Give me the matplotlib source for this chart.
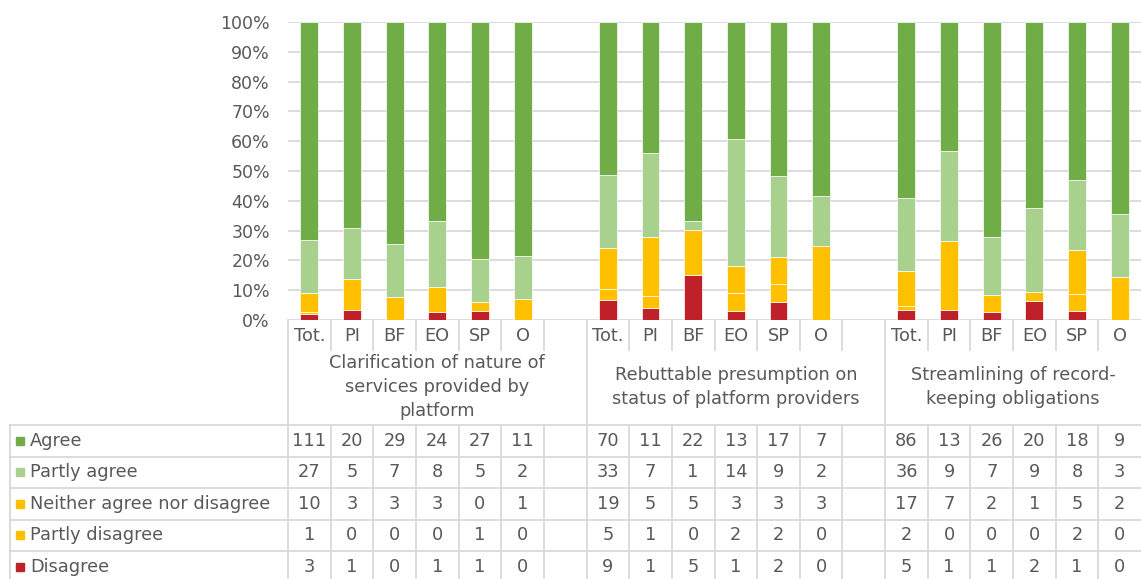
import numpy as np
import matplotlib
matplotlib.use("Agg")
import matplotlib.pyplot as plt
from matplotlib.ticker import PercentFormatter

W, H = 1141, 579

groups = ["Clarification of nature of\nservices provided by\nplatform",
          "Rebuttable presumption on\nstatus of platform providers",
          "Streamlining of record-\nkeeping obligations"]
categories = ["Tot.", "PI", "BF", "EO", "SP", "O"]
answers = ["Agree", "Partly agree", "Neither agree nor disagree",
           "Partly disagree", "Disagree"]
colors = ["#70AD47", "#A9D18E", "#FFC000", "#FFC000", "#C0202A"]

# counts per answer, group by group (Tot., PI, BF, EO, SP, O)
agree = [[111, 20, 29, 24, 27, 11], [70, 11, 22, 13, 17, 7], [86, 13, 26, 20, 18, 9]]
partly_agree = [[27, 5, 7, 8, 5, 2], [33, 7, 1, 14, 9, 2], [36, 9, 7, 9, 8, 3]]
neither = [[10, 3, 3, 3, 0, 1], [19, 5, 5, 3, 3, 3], [17, 7, 2, 1, 5, 2]]
partly_disagree = [[1, 0, 0, 0, 1, 0], [5, 1, 0, 2, 2, 0], [2, 0, 0, 0, 2, 0]]
disagree = [[3, 1, 0, 1, 1, 0], [9, 1, 5, 1, 2, 0], [5, 1, 1, 2, 1, 0]]

series = [agree, partly_agree, neither, partly_disagree, disagree]
counts = np.array([np.concatenate(s) for s in series], dtype=float)  # 5 x 18
shares = counts / counts.sum(axis=0)

ncat = len(categories)
step = ncat + 1
xpos = np.concatenate([np.arange(ncat) + g * step for g in range(len(groups))])

text_col = "#595959"
grid_col = "#D9D9D9"
fs = 12.8

fig = plt.figure(figsize=(W / 100, H / 100), dpi=100)
ax = fig.add_axes([288 / W, (H - 320) / H, 853 / W, 298 / H])

# stacked from bottom: Disagree ... Agree
bottom = np.zeros(len(xpos))
for i in range(len(answers) - 1, -1, -1):
    ax.bar(xpos, shares[i], 0.42, bottom=bottom, color=colors[i],
           edgecolor="white", linewidth=0.5, zorder=3)
    bottom += shares[i]

ax.set_xlim(-0.5, 19.5)
ax.set_ylim(0, 1)
ax.set_yticks(np.arange(0, 1.01, 0.1))
ax.yaxis.set_major_formatter(PercentFormatter(1.0, decimals=0))
ax.grid(axis="y", color=grid_col, linewidth=1.3, zorder=0)
ax.set_xticks([])
ax.tick_params(axis="y", length=0, pad=13, labelsize=12.5, labelcolor=text_col)
for s in ax.spines.values():
    s.set_visible(False)

# data table below the bars
tab = fig.add_axes([288 / W, 0, 853 / W, (H - 320) / H])
tab.set_xlim(-0.5, 19.5)
tab.set_ylim(H, 320)
tab.axis("off")

px = 1 / 42.65  # one pixel in column units
left = -0.5 - 278 * px
rows_top = 425
row_h = 31.5
kw = dict(color=grid_col, linewidth=1.3, clip_on=False)

for r in range(len(answers)):
    y = rows_top + r * row_h
    tab.plot([left, 19.5], [y, y], **kw)
tab.plot([left, left], [rows_top, H], **kw)
for g in range(len(groups)):
    x0 = g * step - 0.5
    tab.plot([x0, x0], [320, H], **kw)
    for k in range(1, step):
        xb = x0 + k
        if xb < 19.5:
            tab.plot([xb, xb], [320, 350], **kw)
            tab.plot([xb, xb], [rows_top, H], **kw)

for x, c in zip(xpos, np.tile(categories, len(groups))):
    tab.text(x, 336, c, ha="center", va="center", fontsize=fs, color=text_col)

group_x = [3, 10, 16.5]
for gx, label in zip(group_x, groups):
    tab.text(gx, 387, label, ha="center", va="center", fontsize=fs,
             color=text_col, linespacing=1.4)

for r, name in enumerate(answers):
    yc = rows_top + (r + 0.5) * row_h
    tab.plot([left + 10 * px], [yc], marker="s", markersize=5.5, color=colors[r],
             clip_on=False, linestyle="none")
    tab.text(left + 20 * px, yc, name, ha="left", va="center", fontsize=fs,
             color=text_col)
    for x, v in zip(xpos, counts[r]):
        tab.text(x, yc, f"{int(v)}", ha="center", va="center", fontsize=fs,
                 color=text_col)

fig.savefig("out.png", dpi=100)
